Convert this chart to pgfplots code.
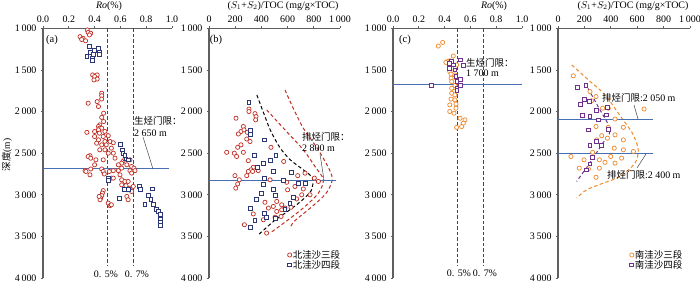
\documentclass[border=0pt]{standalone}
\usepackage{pgfplots}
\pgfplotsset{compat=1.18}
\usepackage{fontspec}
\setmainfont{Liberation Serif}
\newfontfamily\cjk{Noto Sans CJK SC}
\definecolor{cred}{RGB}{192,45,35}
\definecolor{cblue}{RGB}{45,55,120}
\definecolor{corange}{RGB}{240,135,40}
\definecolor{cpurple}{RGB}{110,50,140}
\definecolor{hline}{RGB}{70,110,180}
\definecolor{axgray}{RGB}{95,95,95}
\definecolor{dgray}{RGB}{70,70,70}
\pgfplotsset{
 panel/.style={
  scale only axis, height=249.7bp, y dir=reverse, ymin=1000, ymax=4000,
  ytick={1000,1500,...,4000}, clip=false,
  axis x line*=top, axis y line*=left,
  axis line style={axgray, line width=1.1bp, -},
  tick align=outside, major tick length=2.5bp,
  every tick/.style={axgray, line width=0.7bp},
  tick label style={font=\fontsize{10}{11}\selectfont},
  /pgf/number format/assume math mode=true,
  /pgf/number format/1000 sep={\,},
  yticklabel style={xshift=-0.5bp},
 },
 roaxis/.style={xmin=0, xmax=1, xtick={0,0.2,...,1.0},
  xticklabel style={/pgf/number format/.cd, fixed, fixed zerofill, precision=1}},
 hcaxis/.style={xmin=0, xmax=1000, xtick={0,200,...,1000}},
 rc/.style={only marks, mark=*, mark size=2.1bp, cred, mark options={line width=0.7bp, fill=white}},
 bs/.style={only marks, mark=square*, mark size=1.9bp, cblue, mark options={line width=0.8bp, fill=white}},
 oc/.style={only marks, mark=*, mark size=2.1bp, corange, mark options={line width=0.7bp, fill=white}},
 ps/.style={only marks, mark=square*, mark size=1.9bp, cpurple, mark options={line width=0.8bp, fill=white}},
 vd/.style={dgray, line width=0.8bp, dash pattern=on 3.5bp off 2bp, forget plot},
 hl/.style={hline, line width=1bp, forget plot},
 cv/.style={line width=1bp, dash pattern=on 3.5bp off 2.5bp, smooth, forget plot},
 leg/.style={legend style={draw=none, fill=none, font=\cjk\fontsize{9.5}{10}\selectfont,
   row sep=-1.5bp, inner sep=0pt, legend cell align=left,
   nodes={inner sep=1bp}}},
}
\begin{document}
\begin{tikzpicture}[x=1bp,y=-1bp]
\path[use as bounding box] (0,0) rectangle (700,282);
% ---------------- (a)
\begin{axis}[panel, roaxis, at={(43bp,-28.3bp)}, anchor=north west, width=129bp]
\addplot[vd] coordinates {(0.5,1000) (0.5,3850)};
\addplot[vd] coordinates {(0.7,1000) (0.7,3850)};
\addplot[rc] coordinates {
(0.343,1020)(0.35,1050)(0.37,1060)(0.36,1080)(0.287,1100)(0.31,1120)(0.30,1135)(0.33,1150)
(0.385,1560)(0.42,1560)(0.40,1580)(0.42,1610)(0.395,1620)
(0.455,1780)(0.455,1810)(0.455,1850)(0.42,1880)(0.35,1900)(0.43,1940)
(0.47,2020)(0.455,2070)(0.47,2120)(0.44,2160)(0.43,2180)(0.44,2200)(0.455,2200)(0.43,2220)
(0.34,2250)(0.40,2240)(0.437,2260)(0.48,2240)(0.49,2280)(0.506,2290)(0.40,2300)(0.467,2300)
(0.43,2340)(0.48,2360)(0.52,2360)(0.416,2380)(0.455,2400)(0.49,2400)(0.545,2375)
(0.44,2460)(0.48,2460)(0.53,2440)(0.506,2500)(0.545,2500)(0.364,2530)(0.35,2540)(0.37,2560)
(0.41,2580)(0.467,2580)(0.558,2560)(0.62,2600)(0.635,2570)(0.61,2620)(0.674,2580)(0.40,2640)
(0.584,2640)(0.65,2640)(0.687,2660)(0.705,2680)(0.326,2710)(0.37,2690)(0.455,2690)(0.467,2720)
(0.514,2720)(0.545,2710)(0.584,2710)(0.61,2680)(0.674,2710)(0.713,2710)(0.333,2720)(0.364,2760)
(0.475,2750)(0.597,2760)(0.687,2740)(0.53,2800)(0.545,2800)(0.61,2820)(0.635,2840)(0.66,2840)
(0.61,2880)(0.643,2890)(0.674,2920)(0.654,2940)(0.70,2900)(0.687,2960)
(0.467,2950)(0.46,2980)(0.455,3010)(0.447,3040)(0.442,3060)(0.435,3020)
(0.506,3100)(0.52,3130)(0.53,3120)(0.65,3020)(0.66,3060)};
\addplot[bs] coordinates {
(0.36,1213)(0.43,1240)(0.40,1270)(0.44,1290)(0.37,1290)(0.39,1310)(0.44,1310)(0.34,1340)
(0.38,1360)(0.38,1390)(0.597,2390)(0.618,2460)(0.62,2500)(0.635,2530)(0.643,2570)(0.66,2580)
(0.506,2800)(0.506,2830)(0.628,2940)(0.659,2940)(0.59,3040)(0.747,2900)(0.757,2940)(0.85,2930)
(0.816,3010)(0.837,3060)(0.79,3120)(0.855,3120)(0.88,3180)(0.894,3200)(0.907,3240)(0.907,3290)
(0.907,3330)(0.907,3370)};
\addplot[hl] coordinates {(0,2690) (0.98,2690)};
\end{axis}
% ---------------- (b)
\begin{axis}[panel, hcaxis, leg, at={(209bp,-28.3bp)}, anchor=north west, width=131bp,
  legend style={at={(axis cs:1010,3915)}, anchor=south east}]
\addplot[cv, black] coordinates {(365,1800)(420,2030)(470,2230)(540,2430)(620,2580)(720,2700)(790,2800)(780,2950)(700,3080)(600,3200)(500,3310)(420,3420)(370,3490)};
\addplot[cv, cred] coordinates {(440,1980)(580,2220)(720,2460)(809,2660)(873,2820)(835,2980)(733,3140)(605,3300)(466,3460)};
\addplot[cv, cred] coordinates {(580,1740)(640,1950)(720,2200)(830,2450)(920,2700)(940,2830)(890,2990)(780,3150)(650,3320)(620,3400)};
\addplot[rc] coordinates {
(305,1970)(305,2000)(351,2025)(359,2060)(356,2100)(206,2080)(262,2180)(244,2240)(267,2220)
(224,2270)(292,2250)(288,2330)(313,2360)(219,2430)(244,2400)(262,2490)(135,2490)(193,2500)
(211,2540)(300,2590)(473,2430)(570,2600)(338,2670)(320,2700)(300,2720)(333,2720)(288,2770)
(376,2710)(198,2770)(231,2820)(219,2870)(204,2920)(466,2820)(677,2770)(733,2740)(804,2800)
(835,2840)(593,2850)(656,2900)(600,2940)(720,2930)(771,3000)(708,3000)(669,3050)(427,3090)
(517,3080)(555,3120)(453,3160)(491,3140)(626,3150)(517,3200)(555,3180)(580,3160)(338,3230)
(415,3300)(504,3270)(550,3260)(270,3360)(440,3460)};
\addlegendentry{北洼沙三段}
\addplot[bs] coordinates {
(305,1889)(318,2230)(318,2270)(422,2340)(344,2530)(511,2530)(466,2590)(415,2620)(369,2670)
(491,2720)(626,2730)(420,2800)(567,2830)(682,2860)(738,2860)(415,2880)(397,2980)(491,2940)
(509,3010)(364,3060)(644,3030)(618,3100)(318,3160)(420,3220)(580,3180)(504,3280)(440,3270)
(351,3310)(313,3390)};
\addlegendentry{北洼沙四段}
\addplot[hl] coordinates {(0,2830) (967,2830)};
\end{axis}
% ---------------- (c)
\begin{axis}[panel, roaxis, at={(393bp,-28.3bp)}, anchor=north west, width=129bp]
\addplot[vd] coordinates {(0.5,1000) (0.5,3850)};
\addplot[vd] coordinates {(0.7,1000) (0.7,3850)};
\addplot[oc] coordinates {
(0.351,1213)(0.385,1170)(0.467,1333)(0.44,1390)(0.42,1400)(0.41,1410)(0.45,1420)(0.493,1440)
(0.44,1460)(0.455,1480)(0.44,1520)(0.45,1550)(0.48,1560)(0.45,1600)(0.48,1640)(0.455,1640)
(0.48,1690)(0.455,1720)(0.473,1760)(0.455,1780)(0.48,1800)(0.45,1850)(0.48,1860)(0.44,1920)
(0.488,1910)(0.488,1960)(0.44,2000)(0.473,2020)(0.52,2080)(0.558,2100)(0.545,2140)(0.532,2180)
(0.493,2190)};
\addplot[ps] coordinates {
(0.52,1380)(0.545,1450)(0.455,1400)(0.44,1420)(0.47,1440)(0.44,1480)(0.48,1500)(0.488,1580)
(0.52,1610)(0.495,1640)(0.52,1690)(0.495,1720)(0.495,1750)(0.30,1690)};
\addplot[hl] coordinates {(0,1670) (1.0,1670)};
\end{axis}
% ---------------- (d)
\begin{axis}[panel, hcaxis, leg, at={(558bp,-28.3bp)}, anchor=north west, width=132bp,
  legend style={at={(axis cs:950,3915)}, anchor=south east}]
\addplot[cv, corange] coordinates {(104,1440)(230,1620)(356,1800)(470,2050)(560,2250)(600,2400)(608,2480)(583,2620)(470,2780)(343,2860)(217,2940)(142,3040)};
\addplot[cv, cpurple] coordinates {(205,1660)(300,1930)(394,2220)(330,2400)(240,2620)(141,2840)};
\addplot[oc] coordinates {
(116,1570)(242,1760)(288,1820)(255,1870)(338,1960)(381,1960)(652,1970)(432,2090)(495,2190)
(288,2180)(381,2190)(432,2280)(331,2290)(495,2340)(293,2340)(374,2320)(426,2440)(495,2460)
(571,2480)(262,2490)(98,2540)(197,2580)(313,2580)(356,2610)(399,2540)(432,2620)(482,2560)
(161,2680)(230,2690)(313,2680)(288,2790)};
\addlegendentry{南洼沙三段}
\addplot[ps] coordinates {
(212,1690)(146,1710)(199,1850)(167,1910)(237,1880)(288,1990)(373,1950)(186,2050)(242,2060)
(305,2100)(369,2040)(230,2220)(381,2210)(242,2410)(293,2360)(331,2410)(262,2550)(242,2630)
(217,2700)};
\addlegendentry{南洼沙四段}
\addplot[hl] coordinates {(0,2100) (720,2100)};
\addplot[hl] coordinates {(0,2500) (720,2500)};
\end{axis}
% ---------------- annotations
\def\fs{\fontsize{10}{11}\selectfont}
\def\fc{\fontsize{9.5}{10}\selectfont}
\node[font=\fs] at (109,6) {\textit{Ro}(\%)};
\node[font=\fs] at (494,6) {\textit{Ro}(\%)};
\node[font=\fs] at (283,6) {($S_1$+$S_2$)/TOC (mg/g×TOC)};
\node[font=\fs] at (633,6) {($S_1$+$S_2$)/TOC (mg/g×TOC)};
\node[font=\fontsize{10.5}{11}\selectfont] at (52,40) {(a)};
\node[font=\fontsize{10.5}{11}\selectfont] at (216,40) {(b)};
\node[font=\fontsize{10.5}{11}\selectfont] at (405,40) {(c)};
\node[rotate=90, font=\fc] at (7,155) {{\cjk 深度}(m)};
\node[font=\fc, anchor=west, inner sep=0] at (134,121) {\cjk 生烃门限：};
\node[font=\fs, anchor=west, inner sep=0] at (134,133.5) {2 650 m};
\draw[dgray, line width=0.5bp] (143,137) -- (153,169);
\node[font=\fc, anchor=west, inner sep=0] at (302,137) {\cjk 排烃门限：};
\node[font=\fs, anchor=west, inner sep=0] at (302,148.5) {2 800 m};
\draw[dgray, line width=0.5bp] (320,154) -- (324,180);
\node[font=\fc, anchor=west, inner sep=0] at (466,63) {\cjk 生烃门限：};
\node[font=\fs, anchor=west, inner sep=0] at (466,73.5) {1 700 m};
\node[font=\fs, anchor=west, inner sep=0] at (602,97.5) {{\cjk\fc 排烃门限}:2 050 m};
\draw[dgray, line width=0.5bp] (634,105) -- (638,119);
\node[font=\fs, anchor=west, inner sep=0] at (607,175) {{\cjk\fc 排烃门限}:2 400 m};
\draw[dgray, line width=0.5bp] (646,154) -- (637,168);
\node[font=\fs, inner sep=0] at (106,274) {0. 5\%};
\node[font=\fs, inner sep=0] at (137,274) {0. 7\%};
\node[font=\fs, inner sep=0] at (459,273) {0. 5\%};
\node[font=\fs, inner sep=0] at (485,273) {0. 7\%};
\end{tikzpicture}
\end{document}
